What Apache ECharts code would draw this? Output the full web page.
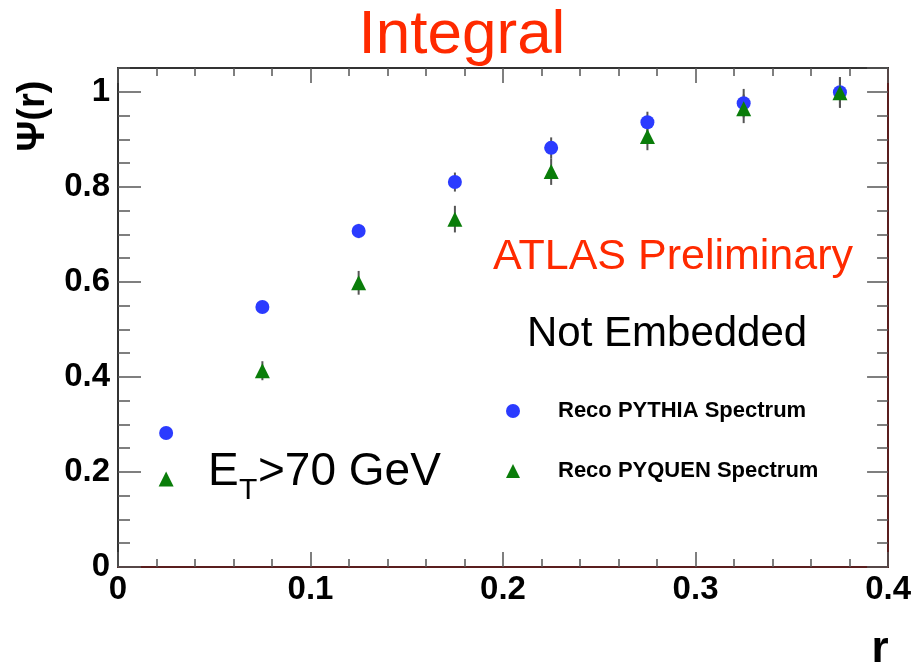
<!DOCTYPE html>
<html>
<head>
<meta charset="utf-8">
<script src="https://cdn.jsdelivr.net/npm/echarts@6/dist/echarts.min.js"></script>
<style>html,body{margin:0;padding:0;background:#fff;}#c{width:914px;height:666px;}</style>
</head>
<body>
<div id="c"></div>
<script>
const r = [0.025, 0.075, 0.125, 0.175, 0.225, 0.275, 0.325, 0.375];
const pythia = [0.282, 0.547, 0.707, 0.810, 0.882, 0.936, 0.976, 0.999];
const pythiaErr = [0.005, 0.01, 0.015, 0.02, 0.022, 0.022, 0.03, 0.032];
const pyquen = [0.185, 0.413, 0.598, 0.732, 0.832, 0.906, 0.964, 0.998];
const pyquenErr = [0.005, 0.02, 0.025, 0.028, 0.028, 0.029, 0.03, 0.032];
const xTicks = [0, 0.1, 0.2, 0.3, 0.4];
const yTicks = [0, 0.2, 0.4, 0.6, 0.8, 1];
const seriesNames = ['Reco PYTHIA Spectrum', 'Reco PYQUEN Spectrum'];

const FONT = '"Liberation Sans", Arial, Helvetica, sans-serif';
const chart = echarts.init(document.getElementById('c'), null, {renderer: 'canvas'});

const pts = (ys) => r.map((x, i) => [x, ys[i]]);
const errs = (ys, es) => r.map((x, i) => [x, ys[i] - es[i], ys[i] + es[i]]);
const errRender = (params, api) => {
  const x = api.value(0);
  const p1 = api.coord([x, api.value(1)]);
  const p2 = api.coord([x, api.value(2)]);
  return {type: 'line', shape: {x1: p1[0], y1: p1[1], x2: p2[0], y2: p2[1]},
          style: {stroke: '#555', lineWidth: 2}};
};

const tickStyle = {color: '#555', width: 1.5};
const xBase = (pos, lineColor, showLabel) => ({
  type: 'value', position: pos, min: xTicks[0], max: xTicks[xTicks.length - 1], interval: 0.1,
  axisLine: {show: true, onZero: false, lineStyle: {color: lineColor, width: 2}},
  axisTick: {show: true, inside: true, length: 15, lineStyle: tickStyle},
  minorTick: {show: true, splitNumber: 5, length: 8, lineStyle: tickStyle},
  splitLine: {show: false}, minorSplitLine: {show: false},
  axisLabel: {show: showLabel, fontSize: 33, fontWeight: 'bold', color: '#000', fontFamily: FONT, margin: 6}
});
const yBase = (pos, lineColor, interval, len, showLabel) => ({
  type: 'value', position: pos, min: 0, max: 1.05, interval: interval,
  axisLine: {show: true, onZero: false, lineStyle: {color: lineColor, width: 2}},
  axisTick: {show: true, inside: true, length: len, lineStyle: tickStyle},
  splitLine: {show: false},
  axisLabel: {show: showLabel, showMaxLabel: false, fontSize: 33, fontWeight: 'bold', color: '#000', fontFamily: FONT, margin: 8,
    formatter: (v) => yTicks.some(t => Math.abs(t - v) < 1e-9) ? String(+v.toFixed(2)) : ''}
});

chart.setOption({
  animation: false,
  backgroundColor: '#fff',
  grid: {left: 118, right: 25, top: 68, bottom: 99, containLabel: false},
  xAxis: [xBase('bottom', '#5a1e1e', true), xBase('top', '#333', false)],
  yAxis: [
    yBase('left', '#333', 0.2, 23, true),
    yBase('left', '#333', 0.05, 12, false),
    yBase('right', '#5a1e1e', 0.2, 21, false),
    yBase('right', '#5a1e1e', 0.05, 11, false)
  ],
  legend: {
    data: [{name: seriesNames[0], icon: 'circle'}, {name: seriesNames[1], icon: 'triangle'}],
    orient: 'vertical', left: 501, top: 395, itemWidth: 14, itemHeight: 14, itemGap: 38,
    textStyle: {fontWeight: 'bold', fontSize: 22, color: '#000', fontFamily: FONT, padding: [0, 0, 0, 33]}
  },
  series: [
    {type: 'custom', name: 'errA', xAxisIndex: 0, yAxisIndex: 0, renderItem: errRender,
     encode: {x: 0, y: [1, 2]}, data: errs(pythia, pythiaErr), z: 1, silent: true},
    {type: 'custom', name: 'errB', xAxisIndex: 0, yAxisIndex: 0, renderItem: errRender,
     encode: {x: 0, y: [1, 2]}, data: errs(pyquen, pyquenErr), z: 1, silent: true},
    {type: 'scatter', name: seriesNames[0], xAxisIndex: 0, yAxisIndex: 0, symbol: 'circle', symbolSize: 14,
     itemStyle: {color: '#2b3bff', opacity: 1}, data: pts(pythia), z: 3},
    {type: 'scatter', name: seriesNames[1], xAxisIndex: 0, yAxisIndex: 0, symbol: 'triangle', symbolSize: 15,
     itemStyle: {color: '#0a7d0a', opacity: 1}, data: pts(pyquen), z: 4}
  ],
  graphic: [
    {type: 'text', x: 462, y: 36, style: {text: 'Integral', fill: '#ff2a00', font: '62px ' + FONT, textAlign: 'center', textVerticalAlign: 'middle'}},
    {type: 'text', x: 493, y: 257, style: {text: 'ATLAS Preliminary', fill: '#ff2a00', font: '43px ' + FONT, textAlign: 'left', textVerticalAlign: 'middle'}},
    {type: 'text', x: 527, y: 334, style: {text: 'Not Embedded', fill: '#000', font: '42px ' + FONT, textAlign: 'left', textVerticalAlign: 'middle'}},
    {type: 'text', x: 208, y: 472, style: {text: 'E', fill: '#000', font: '46px ' + FONT, textAlign: 'left', textVerticalAlign: 'middle'}},
    {type: 'text', x: 239, y: 491, style: {text: 'T', fill: '#000', font: '30px ' + FONT, textAlign: 'left', textVerticalAlign: 'middle'}},
    {type: 'text', x: 258, y: 472, style: {text: '>70 GeV', fill: '#000', font: '46px ' + FONT, textAlign: 'left', textVerticalAlign: 'middle'}},
    {type: 'text', x: 34, y: 116, rotation: Math.PI / 2, style: {text: 'Ψ(r)', fill: '#000', font: 'bold 38px ' + FONT, textAlign: 'center', textVerticalAlign: 'middle'}},
    {type: 'text', x: 880, y: 650, style: {text: 'r', fill: '#000', font: 'bold 44px ' + FONT, textAlign: 'center', textVerticalAlign: 'middle'}}
  ]
});
</script>
</body>
</html>
